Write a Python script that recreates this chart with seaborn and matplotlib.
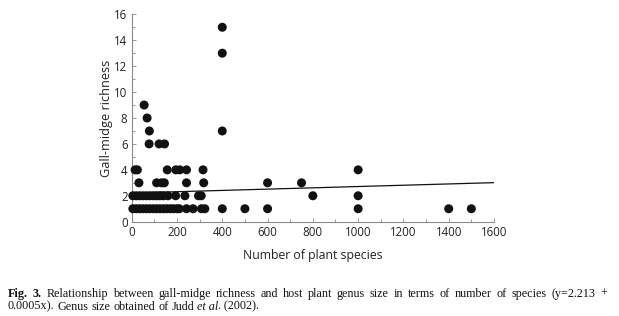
import numpy as np
import pandas as pd
import matplotlib
matplotlib.use("Agg")
import matplotlib.pyplot as plt
import seaborn as sns
from matplotlib.ticker import MultipleLocator

# ---- data ----
y1_x = [5, 20, 35, 50, 65, 80, 95, 110, 125, 140, 155, 170, 185, 200, 210,
        242, 271, 308, 323, 400, 500, 600, 1000, 1400, 1500]
y2_x = [5, 20, 35, 50, 65, 80, 95, 110, 125, 140, 160, 194, 235, 295, 307, 800, 1000]
y3_x = [32, 110, 132, 144, 242, 318, 600, 750]
y4_x = [15, 25, 157, 195, 212, 242, 315, 1000]
y6_x = [77, 121, 145]
y7_x = [78, 400]
y8_x = [68]
y9_x = [55]
y13_x = [400]
y15_x = [400]

intercept = 2.213
slope = 0.0005
line_x = [0, 1600]

x_label = "Number of plant species"
y_label = "Gall-midge richness"

rows = []
for yv, xs in [(1, y1_x), (2, y2_x), (3, y3_x), (4, y4_x), (6, y6_x), (7, y7_x),
               (8, y8_x), (9, y9_x), (13, y13_x), (15, y15_x)]:
    for xv in xs:
        rows.append((xv, yv))
df = pd.DataFrame(rows, columns=["species", "richness"])
fit = pd.DataFrame({"species": line_x,
                    "richness": [intercept + slope * v for v in line_x]})

sns.set_theme(style="ticks")
plt.rcParams['font.family'] = ['Open Sans', 'DejaVu Sans']

W, H = 619, 316
fig = plt.figure(figsize=(W / 100, H / 100), dpi=100)
ax = fig.add_axes([131.7 / W, 1 - 221.7 / H, (494 - 131.7) / W, (221.7 - 14.3) / H])

sns.scatterplot(data=df, x="species", y="richness", ax=ax, color="#111111",
                s=42, edgecolor="none", linewidth=0, clip_on=False, zorder=3)
sns.lineplot(data=fit, x="species", y="richness", ax=ax, color="#111111",
             linewidth=0.9, zorder=2)

ax.set_xlim(0, 1600)
ax.set_ylim(0, 16)
ax.xaxis.set_major_locator(MultipleLocator(200))
ax.xaxis.set_minor_locator(MultipleLocator(100))
ax.yaxis.set_major_locator(MultipleLocator(2))
ax.yaxis.set_minor_locator(MultipleLocator(1))
for s in ["top", "right"]:
    ax.spines[s].set_visible(False)
for s in ["left", "bottom"]:
    ax.spines[s].set_color("#8a8a8a")
    ax.spines[s].set_linewidth(0.8)
ax.tick_params(which="both", direction="in", color="#8a8a8a", width=0.6,
               labelsize=8.3, labelcolor="#222222", pad=3)
ax.tick_params(which="major", length=3)
ax.tick_params(which="minor", length=2)
ax.set_xlabel(x_label, fontsize=8.8, color="#222222", labelpad=7)
ax.set_ylabel(y_label, fontsize=9.2, color="#222222", labelpad=1)

# ---- caption (justified first line) ----
cap_font = "Liberation Serif"
cap_size = 8.7
line1 = [("Fig.", "bold"), ("3.", "bold"), ("Relationship", ""), ("between", ""),
         ("gall-midge", ""), ("richness", ""), ("and", ""), ("host", ""), ("plant", ""),
         ("genus", ""), ("size", ""), ("in", ""), ("terms", ""), ("of", ""),
         ("number", ""), ("of", ""), ("species", ""), ("(y=2.213", ""), ("+", "")]
line2 = [("0.0005x).", ""), ("Genus", ""), ("size", ""), ("obtained", ""), ("of", ""),
         ("Judd", ""), ("et al", "italic"), (". (2002).", "")]

renderer = fig.canvas.get_renderer()


def make_words(words, ybase):
    objs, widths = [], []
    for w, st in words:
        kw = {}
        if st == "bold":
            kw["fontweight"] = "bold"
        if st == "italic":
            kw["fontstyle"] = "italic"
        t = fig.text(0, ybase, w, fontsize=cap_size, family=cap_font,
                     color="#111111", va="baseline", ha="left", **kw)
        objs.append(t)
        widths.append(t.get_window_extent(renderer).width)
    return objs, widths


t_a = fig.text(0, 0, "x x", fontsize=cap_size, family=cap_font)
t_b = fig.text(0, 0, "xx", fontsize=cap_size, family=cap_font)
space_w = t_a.get_window_extent(renderer).width - t_b.get_window_extent(renderer).width
t_a.remove(); t_b.remove()

objs, widths = make_words(line1, 1 - 297 / H)
x0, x1 = 8.0, 607.0
gap = (x1 - x0 - sum(widths)) / (len(objs) - 1)
x = x0
for t, w in zip(objs, widths):
    t.set_x(x / W)
    x += w + gap

objs, widths = make_words(line2, 1 - 309.5 / H)
x = x0
for i, (t, w) in enumerate(zip(objs, widths)):
    t.set_x(x / W)
    nxt_gap = 0 if (i + 1 < len(line2) and line2[i + 1][0].startswith(".")) else space_w
    x += w + nxt_gap

fig.savefig("out.png", dpi=100)
